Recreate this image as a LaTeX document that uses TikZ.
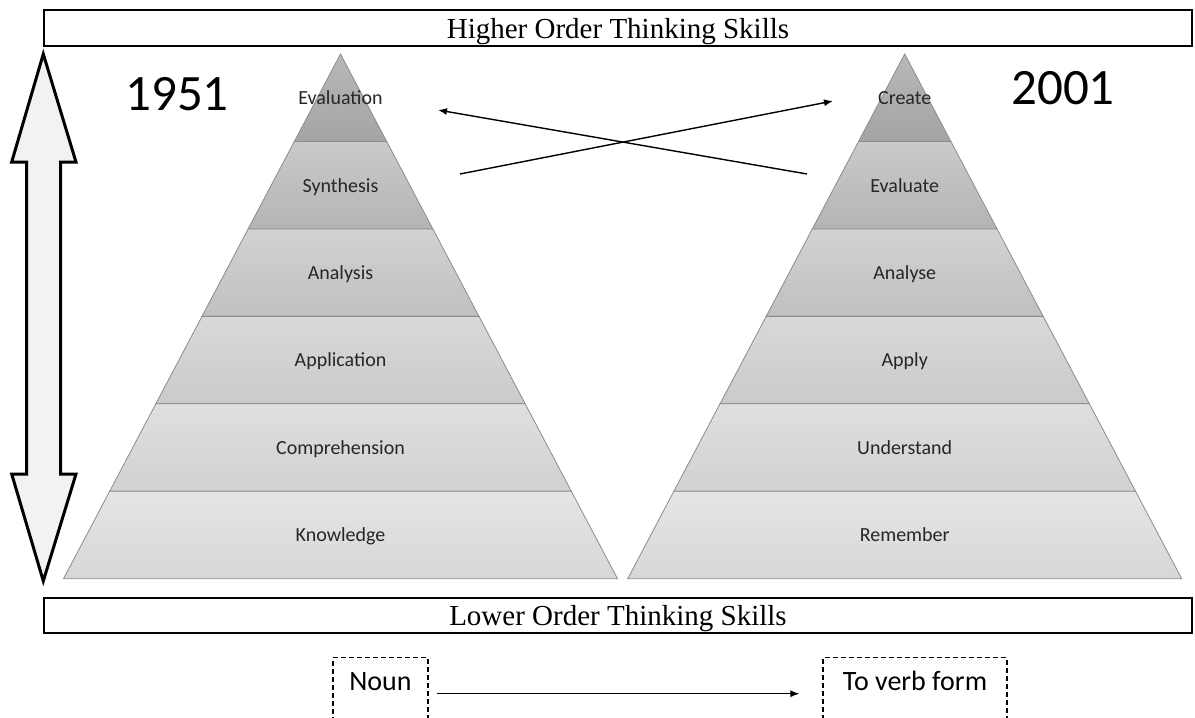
\documentclass[tikz,border=0pt]{standalone}
\usepackage{fontspec}
\setmainfont{Carlito}
\newfontfamily\timesf{Liberation Serif}
\usetikzlibrary{arrows.meta,calc}
\tikzset{
  bar/.style={draw=black, line width=2.2pt, fill=white, minimum width=1148pt,
    font=\timesf\fontsize{29}{34}\selectfont, inner sep=0pt, text height=24pt, text depth=3.4pt},
  layer/.style={draw={rgb,255:red,140;green,140;blue,140}, line width=0.8pt},
  lab/.style={font=\fontsize{20}{24}\selectfont, text=black!85, anchor=base},
  year/.style={font=\fontsize{51}{60}\selectfont, anchor=base},
  formbox/.style={draw=black, dashed, dash pattern=on 5pt off 3pt, line width=1.1pt,
    font=\fontsize{28}{32}\selectfont, anchor=base, inner ysep=0pt, inner xsep=0pt,
    text height=33pt, text depth=70pt},
  conn/.style={line width=1.4pt, -{Latex[length=9pt,width=7pt]}},
  bigarrow/.style={draw=black, line width=3pt, fill={rgb,255:red,242;green,242;blue,242}, line join=miter}
}
\begin{document}
\begin{tikzpicture}[x=1pt,y=-1pt]
\useasboundingbox (0,0) rectangle (1195,718);
\fill[white] (0,0) rectangle (1195,718);

% bars
\node[bar, minimum height=36pt] (hots) at (618,28) {Higher Order Thinking Skills};
\node[bar, minimum height=35pt] (lots) at (618,615.5) {Lower Order Thinking Skills};

% double arrow
\draw[bigarrow] (43.3,54) -- (76,162) -- (60.5,162) -- (60.5,474) -- (76,474)
  -- (43.3,581) -- (11.7,474) -- (26.7,474) -- (26.7,162) -- (11.7,162) -- cycle;

% pyramids
\foreach \ax/\side in {340.5/L, 904.7/R}{
  \foreach \i/\ct/\cb in {0/184/164, 1/202/180, 2/210/192, 3/217/202, 4/223/209, 5/229/215}{
    \pgfmathsetmacro\ya{54+\i*87.45}
    \pgfmathsetmacro\yb{54+(\i+1)*87.45}
    \pgfmathsetmacro\ha{277*\i/6}
    \pgfmathsetmacro\hb{277*(\i+1)/6}
    \shade[top color={rgb,255:red,\ct;green,\ct;blue,\ct}, bottom color={rgb,255:red,\cb;green,\cb;blue,\cb}]
      (\ax-\ha,\ya) -- (\ax+\ha,\ya) -- (\ax+\hb,\yb) -- (\ax-\hb,\yb) -- cycle;
    \draw[layer] (\ax-\ha,\ya) -- (\ax+\ha,\ya) -- (\ax+\hb,\yb) -- (\ax-\hb,\yb) -- cycle;
  }
}

% labels 1951
\node[lab] (evaluation) at (340.5,104.5) {Evaluation};
\node[lab] (synthesis) at (340.5,192) {Synthesis};
\node[lab] (analysis) at (340.5,279.4) {Analysis};
\node[lab] (application) at (340.5,366.9) {Application};
\node[lab] (comprehension) at (340.5,454.3) {Comprehension};
\node[lab] (knowledge) at (340.5,541.8) {Knowledge};
% labels 2001
\node[lab] (create) at (904.7,104.5) {Create};
\node[lab] (evaluate) at (904.7,192) {Evaluate};
\node[lab] (analyse) at (904.7,279.4) {Analyse};
\node[lab] (apply) at (904.7,366.9) {Apply};
\node[lab] (understand) at (904.7,454.3) {Understand};
\node[lab] (remember) at (904.7,541.8) {Remember};

% years
\node[year] (y1951) at (177,110) {1951};
\node[year] (y2001) at (1063,104) {2001};

% crossing arrows
\coordinate (evalfrom) at (807,174);
\coordinate (evalto) at (438,110);
\coordinate (synfrom) at (460,174);
\coordinate (creto) at (833,101);
\draw[conn] (evalfrom) -- (evalto);
\draw[conn] (synfrom) -- (creto);

% noun -> verb
\node[formbox, minimum width=95pt] (noun) at (380.5,690.7) {Noun};
\node[formbox, minimum width=184pt] (verb) at (915,690.7) {To verb form};
\draw[conn, line width=1.3pt] ([xshift=8pt,yshift=-3pt]noun.base east) -- ([xshift=-23pt,yshift=-3pt]verb.base west);
\end{tikzpicture}
\end{document}
